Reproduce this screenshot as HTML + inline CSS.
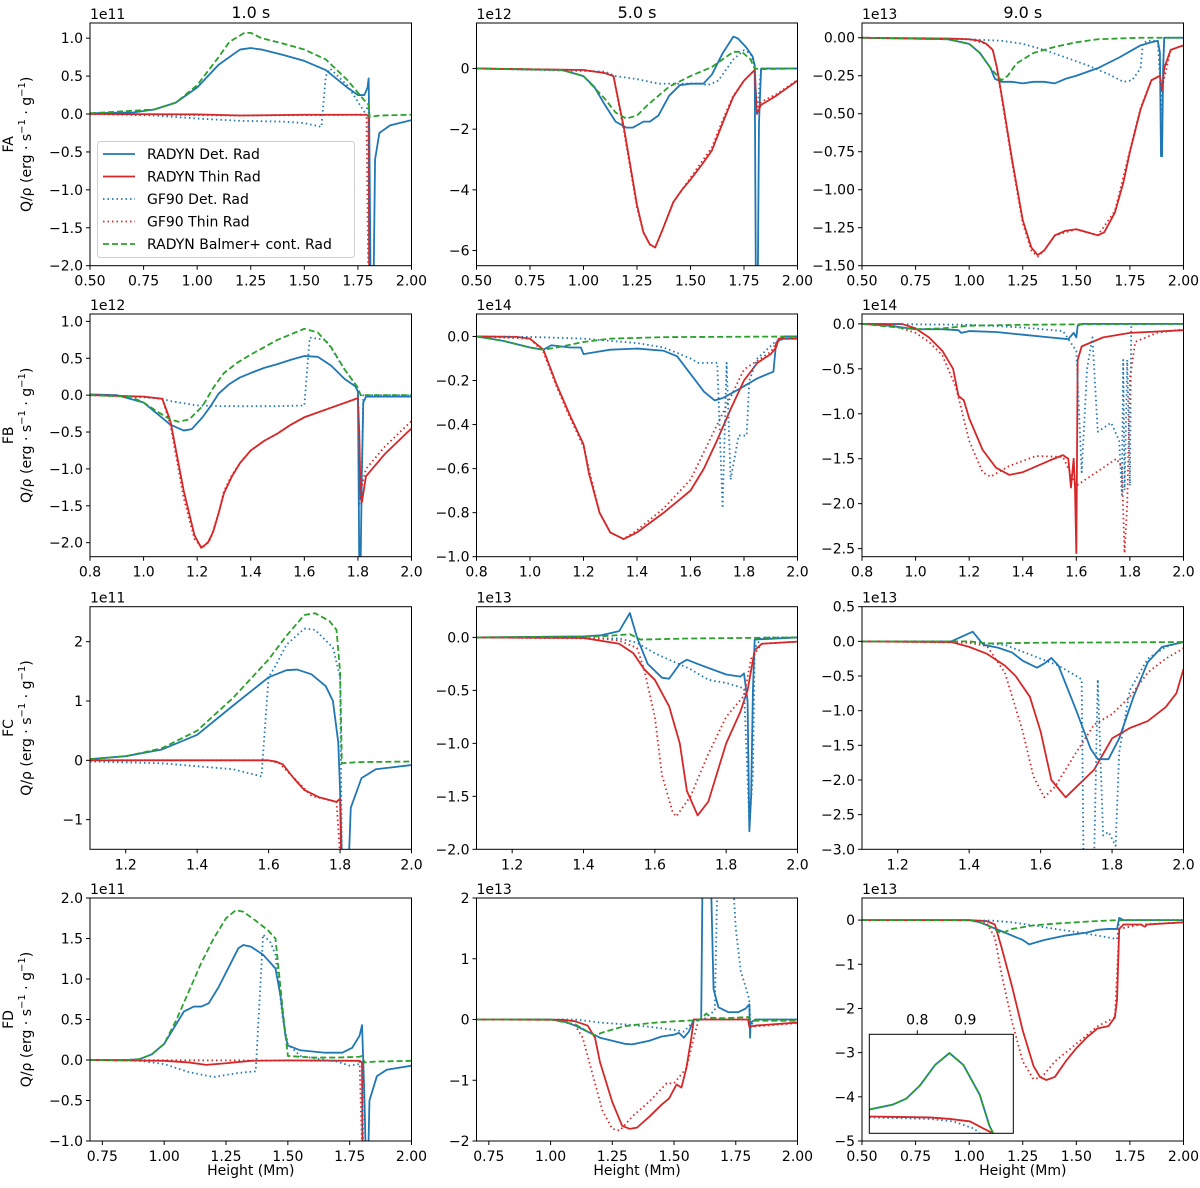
<!DOCTYPE html>
<html><head><meta charset="utf-8"><style>
html,body{margin:0;padding:0;background:#fff;}
svg{display:block;font-family:"DejaVu Sans","Liberation Sans",sans-serif;}
</style></head><body>
<svg id="fig" width="1200" height="1188" viewBox="0 0 1200 1188" xmlns="http://www.w3.org/2000/svg"></svg>
<script>
// ---- data (values in units of the panel exponent) ----
const xTicksA=[0.5,0.75,1.0,1.25,1.5,1.75,2.0];
const xTicksB=[0.8,1.0,1.2,1.4,1.6,1.8,2.0];
const xTicksC=[1.2,1.4,1.6,1.8,2.0];
const xTicksD=[0.75,1.0,1.25,1.5,1.75,2.0];
const yT11=[-2,-1.5,-1,-0.5,0,0.5,1.0], yT12=[-6,-4,-2,0], yT13=[-1.5,-1.25,-1,-0.75,-0.5,-0.25,0];
const yT21=[-2,-1.5,-1,-0.5,0,0.5,1.0], yT22=[-1,-0.8,-0.6,-0.4,-0.2,0], yT23=[-2.5,-2,-1.5,-1,-0.5,0];
const yT31=[-1,0,1,2], yT32=[-2,-1.5,-1,-0.5,0], yT33=[-3,-2.5,-2,-1.5,-1,-0.5,0,0.5];
const yT41=[-1,-0.5,0,0.5,1,1.5,2], yT42=[-2,-1,0,1,2], yT43=[-5,-4,-3,-2,-1,0];

const p11_det=[[0.5,0.01],[0.7,0.02],[0.8,0.06],[0.9,0.15],[1.0,0.35],[1.1,0.65],[1.2,0.85],[1.25,0.87],[1.3,0.85],[1.4,0.78],[1.5,0.70],[1.6,0.58],[1.7,0.35],[1.75,0.25],[1.78,0.25],[1.795,0.35],[1.80,0.47],[1.803,-0.2],[1.81,-2.5],[1.822,-2.5],[1.83,-0.6],[1.85,-0.25],[1.9,-0.15],[2.0,-0.08]];
const p11_thin=[[0.5,0],[1.0,-0.005],[1.2,-0.02],[1.5,-0.01],[1.79,-0.01],[1.80,-0.03],[1.803,-2.5]];
const p11_gdet=[[0.5,0],[0.8,-0.02],[1.0,-0.06],[1.2,-0.09],[1.4,-0.1],[1.5,-0.12],[1.58,-0.17],[1.6,0.5],[1.62,0.6],[1.7,0.38],[1.78,0.03],[1.80,0.1],[1.805,-2.5]];
const p11_gthin=[[0.5,0],[1.2,-0.02],[1.79,-0.01],[1.80,-2.5]];
const p11_balm=[[0.5,0.01],[0.8,0.06],[0.9,0.15],[1.0,0.38],[1.1,0.75],[1.15,0.95],[1.22,1.07],[1.25,1.07],[1.3,1.0],[1.4,0.93],[1.5,0.85],[1.6,0.72],[1.7,0.45],[1.78,0.18],[1.80,0.12],[1.805,-0.04],[1.85,-0.02],[2.0,-0.01]];

const p12_det=[[0.5,0],[0.9,-0.05],[1.0,-0.25],[1.05,-0.6],[1.1,-1.2],[1.15,-1.75],[1.2,-1.95],[1.23,-1.95],[1.28,-1.75],[1.31,-1.75],[1.35,-1.55],[1.4,-0.9],[1.45,-0.55],[1.5,-0.5],[1.56,-0.5],[1.6,-0.2],[1.65,0.5],[1.7,1.05],[1.72,1.0],[1.76,0.7],[1.79,0.4],[1.80,0.1],[1.805,-6.6],[1.815,-6.6],[1.82,-1.8],[1.83,0],[2.0,0]];
const p12_thin=[[0.5,0],[1.0,-0.05],[1.1,-0.15],[1.14,-0.25],[1.19,-2],[1.25,-4.5],[1.28,-5.4],[1.31,-5.8],[1.335,-5.9],[1.37,-5.3],[1.42,-4.4],[1.46,-4.0],[1.5,-3.66],[1.55,-3.2],[1.6,-2.7],[1.65,-1.8],[1.7,-0.93],[1.75,-0.4],[1.80,-0.05],[1.81,-1.5],[1.83,-1.2],[1.9,-0.9],[2.0,-0.4]];
const p12_gdet=[[0.5,0],[1.1,-0.1],[1.15,-0.25],[1.25,-0.35],[1.35,-0.5],[1.45,-0.5],[1.55,-0.5],[1.58,-0.55],[1.63,-0.4],[1.66,-0.1],[1.7,0.3],[1.75,0.6],[1.78,0.5],[1.80,0.1],[1.81,-1.5],[1.83,0],[2.0,0]];
const p12_gthin=[[0.5,0],[1.0,-0.05],[1.1,-0.15],[1.14,-0.25],[1.19,-2.1],[1.25,-4.6],[1.28,-5.4],[1.31,-5.8],[1.335,-5.9],[1.37,-5.3],[1.42,-4.4],[1.5,-3.6],[1.55,-3.1],[1.6,-2.6],[1.65,-1.7],[1.7,-0.9],[1.75,-0.4],[1.80,-0.05],[1.81,-1.4],[1.83,-1.1],[1.9,-0.85],[2.0,-0.38]];
const p12_balm=[[0.5,0],[0.9,-0.05],[1.0,-0.25],[1.1,-1.0],[1.15,-1.45],[1.2,-1.65],[1.25,-1.55],[1.3,-1.2],[1.4,-0.6],[1.5,-0.25],[1.6,0.05],[1.65,0.3],[1.7,0.55],[1.74,0.55],[1.78,0.3],[1.80,0],[1.82,-0.02],[2.0,0]];

const p13_det=[[0.5,0],[0.9,-0.01],[1.0,-0.04],[1.05,-0.1],[1.1,-0.2],[1.12,-0.27],[1.15,-0.29],[1.2,-0.29],[1.25,-0.3],[1.3,-0.29],[1.35,-0.29],[1.4,-0.3],[1.45,-0.27],[1.5,-0.25],[1.6,-0.2],[1.7,-0.13],[1.8,-0.05],[1.85,-0.03],[1.88,-0.02],[1.89,-0.1],[1.895,-0.78],[1.9,-0.78],[1.905,-0.2],[1.91,0],[2.0,0]];
const p13_thin=[[0.5,0],[0.9,-0.005],[1.0,-0.01],[1.05,-0.02],[1.08,-0.04],[1.11,-0.08],[1.13,-0.2],[1.16,-0.45],[1.2,-0.8],[1.25,-1.2],[1.29,-1.38],[1.32,-1.43],[1.35,-1.40],[1.4,-1.3],[1.45,-1.27],[1.5,-1.26],[1.55,-1.28],[1.6,-1.3],[1.63,-1.28],[1.68,-1.15],[1.72,-0.95],[1.75,-0.75],[1.8,-0.47],[1.85,-0.28],[1.89,-0.25],[1.9,-0.35],[1.91,-0.2],[1.94,-0.08],[2.0,-0.05]];
const p13_gdet=[[0.5,0],[1.0,-0.01],[1.15,-0.02],[1.25,-0.04],[1.35,-0.08],[1.45,-0.13],[1.55,-0.18],[1.65,-0.24],[1.72,-0.29],[1.76,-0.28],[1.8,-0.2],[1.81,-0.04],[1.83,-0.02],[1.88,-0.02],[1.9,-0.5],[1.91,0],[2.0,0]];
const p13_gthin=[[0.5,0],[1.0,-0.01],[1.08,-0.04],[1.11,-0.08],[1.13,-0.2],[1.16,-0.47],[1.2,-0.82],[1.25,-1.22],[1.29,-1.4],[1.32,-1.44],[1.35,-1.40],[1.4,-1.3],[1.5,-1.26],[1.6,-1.3],[1.68,-1.14],[1.75,-0.74],[1.8,-0.46],[1.85,-0.28],[1.89,-0.25],[1.9,-0.33],[1.94,-0.08],[2.0,-0.05]];
const p13_balm=[[0.5,0],[0.9,-0.01],[1.0,-0.04],[1.05,-0.1],[1.1,-0.2],[1.15,-0.28],[1.18,-0.25],[1.22,-0.17],[1.3,-0.1],[1.4,-0.06],[1.5,-0.03],[1.6,-0.01],[1.8,0],[2.0,0]];

const p21_det=[[0.8,0.01],[0.9,0],[1.0,-0.1],[1.05,-0.25],[1.1,-0.4],[1.15,-0.48],[1.18,-0.46],[1.22,-0.3],[1.25,-0.15],[1.28,0.02],[1.32,0.15],[1.36,0.24],[1.4,0.3],[1.45,0.37],[1.5,0.42],[1.55,0.48],[1.6,0.53],[1.65,0.52],[1.7,0.4],[1.75,0.22],[1.79,0.12],[1.80,0.05],[1.805,-2.3],[1.81,-2.3],[1.815,-1.0],[1.82,-0.1],[1.83,-0.02],[2.0,-0.02]];
const p21_thin=[[0.8,0],[1.0,-0.02],[1.07,-0.05],[1.1,-0.35],[1.15,-1.3],[1.19,-1.9],[1.215,-2.07],[1.24,-2.0],[1.26,-1.85],[1.28,-1.6],[1.3,-1.33],[1.33,-1.1],[1.36,-0.92],[1.4,-0.75],[1.45,-0.62],[1.5,-0.52],[1.55,-0.4],[1.6,-0.3],[1.7,-0.17],[1.8,-0.04],[1.805,-0.5],[1.81,-1.4],[1.815,-1.45],[1.83,-1.1],[1.9,-0.8],[2.0,-0.45]];
const p21_gdet=[[0.8,0],[1.0,-0.03],[1.07,-0.05],[1.1,-0.08],[1.2,-0.14],[1.3,-0.15],[1.5,-0.15],[1.6,-0.14],[1.62,0.78],[1.68,0.75],[1.75,0.35],[1.8,0.1],[1.805,-1.5],[1.815,-1.0],[1.82,0],[2.0,0]];
const p21_gthin=[[0.8,0],[1.0,-0.02],[1.07,-0.05],[1.1,-0.4],[1.15,-1.4],[1.19,-1.95],[1.22,-2.07],[1.25,-1.95],[1.28,-1.6],[1.3,-1.3],[1.33,-1.08],[1.36,-0.92],[1.4,-0.75],[1.45,-0.62],[1.5,-0.52],[1.55,-0.4],[1.6,-0.3],[1.7,-0.17],[1.8,-0.04],[1.81,-1.3],[1.83,-1.0],[1.9,-0.7],[2.0,-0.35]];
const p21_balm=[[0.8,0],[0.95,-0.02],[1.0,-0.1],[1.05,-0.22],[1.1,-0.33],[1.13,-0.36],[1.17,-0.33],[1.22,-0.15],[1.26,0.1],[1.3,0.3],[1.35,0.44],[1.4,0.55],[1.5,0.75],[1.6,0.9],[1.65,0.85],[1.7,0.65],[1.75,0.35],[1.8,0.1],[1.81,0],[2.0,0]];

const p22_det=[[0.8,0],[0.9,-0.02],[1.0,-0.05],[1.05,-0.06],[1.08,-0.04],[1.15,-0.05],[1.19,-0.05],[1.2,-0.08],[1.25,-0.07],[1.3,-0.06],[1.4,-0.055],[1.5,-0.065],[1.55,-0.09],[1.6,-0.17],[1.65,-0.25],[1.69,-0.29],[1.72,-0.28],[1.78,-0.24],[1.85,-0.19],[1.91,-0.16],[1.92,-0.03],[1.95,0],[2.0,0]];
const p22_thin=[[0.8,0],[0.95,-0.002],[1.0,-0.01],[1.05,-0.06],[1.1,-0.22],[1.15,-0.36],[1.2,-0.49],[1.22,-0.62],[1.26,-0.8],[1.3,-0.89],[1.35,-0.92],[1.4,-0.89],[1.5,-0.8],[1.55,-0.75],[1.6,-0.7],[1.65,-0.6],[1.7,-0.47],[1.75,-0.33],[1.8,-0.2],[1.85,-0.12],[1.9,-0.08],[1.92,-0.05],[1.93,-0.01],[2.0,-0.01]];
const p22_gdet=[[0.8,0],[1.0,-0.002],[1.2,-0.01],[1.3,-0.02],[1.4,-0.03],[1.5,-0.05],[1.6,-0.1],[1.63,-0.12],[1.7,-0.12],[1.72,-0.78],[1.735,-0.12],[1.75,-0.65],[1.78,-0.45],[1.81,-0.45],[1.82,-0.2],[1.85,-0.1],[1.92,-0.02],[2.0,0]];
const p22_gthin=[[0.8,0],[1.0,-0.01],[1.05,-0.07],[1.1,-0.23],[1.15,-0.37],[1.2,-0.5],[1.26,-0.8],[1.3,-0.89],[1.35,-0.92],[1.4,-0.88],[1.5,-0.78],[1.6,-0.65],[1.7,-0.4],[1.8,-0.15],[1.9,-0.07],[1.93,-0.01],[2.0,-0.01]];
const p22_balm=[[0.8,0],[0.9,-0.02],[1.0,-0.05],[1.05,-0.06],[1.1,-0.05],[1.2,-0.025],[1.3,-0.01],[1.5,-0.003],[2.0,0]];

const p23_det=[[0.8,0],[0.9,-0.02],[1.0,-0.06],[1.1,-0.06],[1.16,-0.07],[1.17,-0.1],[1.2,-0.08],[1.3,-0.09],[1.4,-0.12],[1.5,-0.15],[1.57,-0.17],[1.59,-0.1],[1.6,-0.15],[1.605,-0.02],[1.62,0],[2.0,0]];
const p23_thin=[[0.8,0],[0.95,-0.002],[1.0,-0.05],[1.05,-0.15],[1.1,-0.3],[1.14,-0.5],[1.16,-0.8],[1.18,-0.85],[1.2,-1.05],[1.25,-1.4],[1.3,-1.6],[1.35,-1.68],[1.4,-1.65],[1.5,-1.52],[1.55,-1.46],[1.57,-1.5],[1.58,-1.82],[1.59,-1.5],[1.595,-1.82],[1.6,-2.55],[1.605,-0.4],[1.62,-0.25],[1.7,-0.15],[1.8,-0.1],[2.0,-0.07]];
const p23_gdet=[[0.8,0],[1.2,-0.01],[1.4,-0.04],[1.55,-0.08],[1.6,-0.3],[1.62,-1.65],[1.64,-0.5],[1.66,-0.15],[1.68,-1.2],[1.73,-1.1],[1.76,-1.3],[1.77,-1.9],[1.775,-0.4],[1.78,-1.85],[1.79,-0.4],[1.8,-1.8],[1.805,0],[2.0,0]];
const p23_gthin=[[0.8,0],[0.9,-0.005],[1.0,-0.1],[1.05,-0.2],[1.1,-0.35],[1.15,-0.7],[1.2,-1.3],[1.25,-1.65],[1.28,-1.7],[1.35,-1.58],[1.45,-1.47],[1.55,-1.48],[1.6,-1.8],[1.65,-1.7],[1.7,-1.6],[1.75,-1.5],[1.77,-1.6],[1.78,-2.55],[1.79,-2.0],[1.8,-0.6],[1.82,-0.2],[1.9,-0.1],[2.0,-0.06]];
const p23_balm=[[0.8,0],[1.0,-0.06],[1.1,-0.05],[1.2,-0.02],[1.4,-0.01],[1.6,-0.005],[2.0,0]];

const p31_det=[[1.1,0.02],[1.2,0.07],[1.3,0.18],[1.4,0.43],[1.5,0.92],[1.6,1.4],[1.65,1.52],[1.68,1.53],[1.72,1.45],[1.76,1.25],[1.78,1.0],[1.795,0.3],[1.8,-0.5],[1.805,-1.6],[1.825,-1.6],[1.83,-0.8],[1.86,-0.3],[1.9,-0.15],[2.0,-0.08]];
const p31_thin=[[1.1,0],[1.6,0],[1.62,-0.02],[1.64,-0.07],[1.67,-0.3],[1.7,-0.5],[1.74,-0.62],[1.79,-0.7],[1.8,-0.65],[1.803,-1.6]];
const p31_gdet=[[1.1,-0.02],[1.3,-0.05],[1.5,-0.15],[1.58,-0.27],[1.6,1.4],[1.62,1.6],[1.65,1.95],[1.7,2.22],[1.73,2.2],[1.78,1.9],[1.8,1.4],[1.805,-1.6]];
const p31_gthin=[[1.1,0],[1.6,0],[1.63,-0.05],[1.68,-0.35],[1.72,-0.6],[1.79,-0.7],[1.8,-1.6]];
const p31_balm=[[1.1,0.02],[1.2,0.07],[1.3,0.2],[1.4,0.5],[1.5,1.05],[1.6,1.7],[1.65,2.1],[1.7,2.45],[1.73,2.48],[1.77,2.35],[1.79,2.2],[1.8,1.5],[1.805,-0.05],[1.85,-0.03],[2.0,-0.02]];

const p32_det=[[1.1,0],[1.4,0.01],[1.45,0.02],[1.5,0.06],[1.53,0.23],[1.55,0.0],[1.58,-0.25],[1.62,-0.38],[1.64,-0.39],[1.67,-0.25],[1.69,-0.21],[1.72,-0.25],[1.8,-0.35],[1.84,-0.37],[1.85,-0.34],[1.86,-0.6],[1.865,-1.83],[1.87,-1.5],[1.875,-0.5],[1.88,-0.02],[2.0,0]];
const p32_thin=[[1.1,0],[1.4,-0.005],[1.5,-0.06],[1.54,-0.15],[1.57,-0.3],[1.6,-0.4],[1.64,-0.65],[1.67,-1.0],[1.69,-1.45],[1.72,-1.68],[1.75,-1.55],[1.8,-1.0],[1.84,-0.7],[1.86,-0.5],[1.88,-0.12],[1.9,-0.06],[2.0,-0.04]];
const p32_gdet=[[1.1,0],[1.5,-0.01],[1.55,-0.05],[1.6,-0.15],[1.7,-0.3],[1.75,-0.4],[1.8,-0.43],[1.85,-0.48],[1.865,-1.75],[1.875,-1.3],[1.88,-0.1],[1.9,0],[2.0,0]];
const p32_gthin=[[1.1,0],[1.45,-0.01],[1.5,-0.03],[1.55,-0.1],[1.57,-0.3],[1.6,-0.75],[1.62,-1.3],[1.65,-1.65],[1.66,-1.69],[1.7,-1.5],[1.75,-1.1],[1.8,-0.75],[1.85,-0.55],[1.87,-0.2],[1.9,-0.06],[2.0,-0.04]];
const p32_balm=[[1.1,0],[1.45,0.01],[1.53,0.03],[1.56,-0.02],[1.7,-0.01],[2.0,0]];

const p33_det=[[1.1,0],[1.35,0],[1.38,0.07],[1.41,0.14],[1.44,-0.05],[1.48,-0.09],[1.52,-0.16],[1.55,-0.28],[1.59,-0.38],[1.61,-0.32],[1.63,-0.24],[1.65,-0.35],[1.7,-1.0],[1.74,-1.55],[1.76,-1.7],[1.79,-1.7],[1.82,-1.4],[1.86,-0.8],[1.9,-0.3],[1.94,-0.08],[2.0,-0.01]];
const p33_thin=[[1.1,0],[1.35,-0.01],[1.4,-0.08],[1.45,-0.18],[1.5,-0.35],[1.53,-0.5],[1.57,-0.8],[1.6,-1.3],[1.63,-2.0],[1.67,-2.25],[1.7,-2.1],[1.75,-1.85],[1.8,-1.4],[1.85,-1.25],[1.9,-1.15],[1.95,-0.95],[1.98,-0.75],[2.0,-0.4]];
const p33_gdet=[[1.1,0],[1.4,-0.01],[1.5,-0.05],[1.6,-0.25],[1.65,-0.35],[1.7,-0.5],[1.715,-0.55],[1.72,-3.1],[1.75,-3.1],[1.76,-0.55],[1.775,-2.8],[1.79,-2.75],[1.81,-2.95],[1.82,-1.6],[1.85,-0.7],[1.9,-0.25],[1.95,-0.08],[2.0,0]];
const p33_gthin=[[1.1,0],[1.4,-0.02],[1.45,-0.07],[1.5,-0.45],[1.55,-1.3],[1.58,-1.95],[1.61,-2.25],[1.64,-2.1],[1.7,-1.6],[1.75,-1.2],[1.8,-1.05],[1.85,-0.8],[1.9,-0.45],[1.95,-0.25],[2.0,-0.1]];
const p33_balm=[[1.1,0],[1.4,0],[1.45,-0.03],[1.6,-0.02],[2.0,-0.01]];

const p41_det=[[0.7,0],[0.85,0],[0.9,0.01],[0.95,0.07],[1.0,0.2],[1.05,0.45],[1.08,0.6],[1.12,0.66],[1.15,0.66],[1.18,0.7],[1.22,0.9],[1.27,1.2],[1.3,1.38],[1.32,1.42],[1.35,1.4],[1.4,1.3],[1.45,1.13],[1.47,0.8],[1.49,0.3],[1.5,0.18],[1.55,0.12],[1.65,0.09],[1.72,0.09],[1.76,0.15],[1.79,0.3],[1.8,0.43],[1.805,-0.02],[1.81,-0.5],[1.815,-1.2],[1.825,-1.2],[1.83,-0.5],[1.86,-0.2],[1.9,-0.12],[2.0,-0.07]];
const p41_thin=[[0.7,0],[1.0,-0.01],[1.1,-0.03],[1.17,-0.06],[1.25,-0.04],[1.35,-0.01],[1.5,-0.005],[1.79,-0.01],[1.8,-0.03],[1.802,-1.1]];
const p41_gdet=[[0.7,0],[0.9,-0.01],[1.0,-0.05],[1.1,-0.15],[1.2,-0.21],[1.3,-0.16],[1.37,-0.14],[1.4,1.55],[1.43,1.45],[1.45,1.3],[1.48,0.5],[1.5,0.2],[1.55,0.05],[1.65,0],[1.7,-0.02],[1.75,-0.07],[1.79,-0.05],[1.8,-0.02],[1.805,-1.1]];
const p41_gthin=[[0.7,0],[1.79,-0.01],[1.8,-1.1]];
const p41_balm=[[0.7,0],[0.85,0],[0.9,0.01],[0.95,0.07],[1.0,0.2],[1.05,0.5],[1.1,0.85],[1.15,1.2],[1.2,1.5],[1.25,1.75],[1.29,1.85],[1.32,1.83],[1.37,1.72],[1.42,1.6],[1.45,1.5],[1.48,0.6],[1.5,0.05],[1.6,0.03],[1.7,0.03],[1.79,0.04],[1.8,0.05],[1.81,-0.03],[1.85,-0.02],[2.0,-0.01]];

const p42_det=[[0.7,0],[1.0,0],[1.05,-0.03],[1.1,-0.1],[1.15,-0.2],[1.2,-0.3],[1.25,-0.35],[1.3,-0.4],[1.33,-0.41],[1.4,-0.35],[1.45,-0.28],[1.5,-0.25],[1.52,-0.22],[1.54,-0.3],[1.56,-0.2],[1.58,0],[1.61,0],[1.615,2.2],[1.65,2.2],[1.66,0.5],[1.68,0.2],[1.72,0.12],[1.76,0.12],[1.79,0.18],[1.805,0.25],[1.808,-0.3],[1.81,-0.05],[1.83,0],[2.0,0]];
const p42_thin=[[0.7,0],[1.05,-0.005],[1.1,-0.03],[1.15,-0.1],[1.18,-0.3],[1.2,-0.7],[1.25,-1.36],[1.29,-1.75],[1.32,-1.8],[1.35,-1.78],[1.4,-1.6],[1.45,-1.4],[1.48,-1.3],[1.51,-1.07],[1.53,-1.12],[1.55,-0.8],[1.57,-0.3],[1.58,0],[1.8,0],[1.805,-0.12],[1.83,-0.1],[2.0,-0.05]];
const p42_gdet=[[0.7,0],[1.1,0],[1.2,-0.05],[1.3,-0.08],[1.4,-0.12],[1.5,-0.17],[1.54,-0.2],[1.58,-0.02],[1.62,0],[1.665,0.15],[1.675,2.2],[1.74,2.2],[1.75,1.5],[1.77,0.8],[1.8,0.4],[1.805,0.3],[1.81,-0.1],[1.83,0],[2.0,0]];
const p42_gthin=[[0.7,0],[1.05,-0.005],[1.1,-0.1],[1.13,-0.3],[1.17,-0.9],[1.21,-1.5],[1.25,-1.8],[1.28,-1.83],[1.33,-1.6],[1.4,-1.35],[1.47,-1.05],[1.5,-1.05],[1.55,-0.8],[1.58,-0.3],[1.6,0],[1.8,0],[1.81,-0.12],[2.0,-0.06]];
const p42_balm=[[0.7,0],[1.0,0],[1.1,-0.08],[1.15,-0.2],[1.18,-0.26],[1.22,-0.2],[1.3,-0.11],[1.4,-0.06],[1.5,-0.03],[1.6,-0.01],[1.62,0.05],[1.63,0.1],[1.65,0.03],[1.7,0.02],[1.8,0.04],[1.81,-0.02],[2.0,-0.02]];

const p43_det=[[0.5,0],[1.0,0],[1.05,-0.05],[1.1,-0.15],[1.15,-0.25],[1.2,-0.35],[1.25,-0.45],[1.28,-0.55],[1.35,-0.45],[1.45,-0.35],[1.55,-0.28],[1.6,-0.22],[1.65,-0.2],[1.69,-0.2],[1.7,0.05],[1.72,0],[2.0,0]];
const p43_thin=[[0.5,0],[1.0,0],[1.08,-0.02],[1.12,-0.1],[1.15,-0.6],[1.2,-1.5],[1.25,-2.5],[1.3,-3.3],[1.33,-3.55],[1.36,-3.62],[1.4,-3.55],[1.45,-3.2],[1.5,-2.9],[1.55,-2.65],[1.6,-2.45],[1.65,-2.4],[1.68,-2.2],[1.69,-1.8],[1.7,-0.2],[1.72,-0.1],[1.8,-0.1],[1.82,-0.15],[1.83,-0.1],[2.0,-0.05]];
const p43_gdet=[[0.5,0],[1.1,-0.01],[1.2,-0.05],[1.3,-0.12],[1.4,-0.2],[1.5,-0.27],[1.6,-0.35],[1.69,-0.43],[1.7,0],[2.0,0]];
const p43_gthin=[[0.5,0],[1.0,0],[1.08,-0.05],[1.12,-0.4],[1.15,-1.2],[1.2,-2.3],[1.25,-3.2],[1.3,-3.6],[1.34,-3.55],[1.4,-3.2],[1.5,-2.8],[1.6,-2.4],[1.68,-2.2],[1.7,-0.2],[1.8,-0.1],[2.0,-0.05]];
const p43_balm=[[0.5,0],[1.0,0],[1.05,-0.05],[1.1,-0.15],[1.15,-0.3],[1.2,-0.2],[1.3,-0.12],[1.4,-0.08],[1.5,-0.05],[1.6,-0.02],[1.7,0],[2.0,0]];
// inset (normalised y)
const inset_balm=[[0.7,0.24],[0.749,0.29],[0.777,0.35],[0.805,0.48],[0.837,0.69],[0.867,0.81],[0.896,0.69],[0.93,0.39],[0.95,0.08],[0.958,0]];
const inset_thin=[[0.7,0.17],[0.826,0.16],[0.868,0.145],[0.91,0.12],[0.937,0.05],[0.958,0]];
const inset_gdet=[[0.7,0.16],[0.826,0.145],[0.875,0.12],[0.917,0.05],[0.93,0]];
const insetTicks=[0.8,0.9];

// ---- drawing ----
const NS='http://www.w3.org/2000/svg';
const svg=document.getElementById('fig');
const BLUE='#1f77b4',RED='#d62728',GREEN='#2ca02c';
const colL=[90,476.5,862],colR=[411.5,797.5,1183.5];
const rowT=[23,314,606.7,898],rowB=[265.7,556.7,849.3,1141];
function el(tag,attrs,parent){const e=document.createElementNS(NS,tag);for(const k in attrs)e.setAttribute(k,attrs[k]);(parent||svg).appendChild(e);return e;}
function fmt(v,d){const s=Math.abs(v).toFixed(d);return (v<0&&Math.abs(v)>1e-9?'\u2212':'')+s;}
const styles={det:{c:BLUE,d:null},thin:{c:RED,d:null},gdet:{c:BLUE,d:'1.5 3'},gthin:{c:RED,d:'1.5 3'},balm:{c:GREEN,d:'6 3'}};
const panels=[
 {id:'fa-1s',r:0,c:0,xl:[0.5,2.0],yl:[-2,1.2],xt:xTicksA,xd:2,yt:yT11,yd:1,exp:'1e11',s:{det:p11_det,thin:p11_thin,gdet:p11_gdet,gthin:p11_gthin,balm:p11_balm}},
 {id:'fa-5s',r:0,c:1,xl:[0.5,2.0],yl:[-6.5,1.5],xt:xTicksA,xd:2,yt:yT12,yd:0,exp:'1e12',s:{det:p12_det,thin:p12_thin,gdet:p12_gdet,gthin:p12_gthin,balm:p12_balm}},
 {id:'fa-9s',r:0,c:2,xl:[0.5,2.0],yl:[-1.5,0.097],xt:xTicksA,xd:2,yt:yT13,yd:2,exp:'1e13',s:{det:p13_det,thin:p13_thin,gdet:p13_gdet,gthin:p13_gthin,balm:p13_balm}},
 {id:'fb-1s',r:1,c:0,xl:[0.8,2.0],yl:[-2.19,1.1],xt:xTicksB,xd:1,yt:yT21,yd:1,exp:'1e12',s:{det:p21_det,thin:p21_thin,gdet:p21_gdet,gthin:p21_gthin,balm:p21_balm}},
 {id:'fb-5s',r:1,c:1,xl:[0.8,2.0],yl:[-1.0,0.102],xt:xTicksB,xd:1,yt:yT22,yd:1,exp:'1e14',s:{det:p22_det,thin:p22_thin,gdet:p22_gdet,gthin:p22_gthin,balm:p22_balm}},
 {id:'fb-9s',r:1,c:2,xl:[0.8,2.0],yl:[-2.59,0.11],xt:xTicksB,xd:1,yt:yT23,yd:1,exp:'1e14',s:{det:p23_det,thin:p23_thin,gdet:p23_gdet,gthin:p23_gthin,balm:p23_balm}},
 {id:'fc-1s',r:2,c:0,xl:[1.1,2.0],yl:[-1.5,2.59],xt:xTicksC,xd:1,yt:yT31,yd:0,exp:'1e11',s:{det:p31_det,thin:p31_thin,gdet:p31_gdet,gthin:p31_gthin,balm:p31_balm}},
 {id:'fc-5s',r:2,c:1,xl:[1.1,2.0],yl:[-2.0,0.29],xt:xTicksC,xd:1,yt:yT32,yd:1,exp:'1e13',s:{det:p32_det,thin:p32_thin,gdet:p32_gdet,gthin:p32_gthin,balm:p32_balm}},
 {id:'fc-9s',r:2,c:2,xl:[1.1,2.0],yl:[-3.0,0.5],xt:xTicksC,xd:1,yt:yT33,yd:1,exp:'1e13',s:{det:p33_det,thin:p33_thin,gdet:p33_gdet,gthin:p33_gthin,balm:p33_balm}},
 {id:'fd-1s',r:3,c:0,xl:[0.7,2.0],yl:[-1.0,2.0],xt:xTicksD,xd:2,yt:yT41,yd:1,exp:'1e11',s:{det:p41_det,thin:p41_thin,gdet:p41_gdet,gthin:p41_gthin,balm:p41_balm}},
 {id:'fd-5s',r:3,c:1,xl:[0.7,2.0],yl:[-2.0,2.0],xt:xTicksD,xd:2,yt:yT42,yd:0,exp:'1e13',s:{det:p42_det,thin:p42_thin,gdet:p42_gdet,gthin:p42_gthin,balm:p42_balm}},
 {id:'fd-9s',r:3,c:2,xl:[0.5,2.0],yl:[-5.0,0.5],xt:xTicksA,xd:2,yt:yT43,yd:0,exp:'1e13',s:{det:p43_det,thin:p43_thin,gdet:p43_gdet,gthin:p43_gthin,balm:p43_balm}}
];
const rowNames=['FA','FB','FC','FD'];
const titles=['1.0 s','5.0 s','9.0 s'];
function drawSeries(g,data,st,sx,sy,clip,name){
  const pts=data.map(p=>sx(p[0]).toFixed(2)+','+sy(p[1]).toFixed(2)).join(' ');
  const pl=el('polyline',{points:pts,fill:'none',stroke:st.c,'stroke-width':1.8,'stroke-linejoin':'round','clip-path':'url(#'+clip+')'},g);
  if(st.d)pl.setAttribute('stroke-dasharray',st.d);
  
  
}
panels.forEach(P=>{
  const L=colL[P.c],R=colR[P.c],T=rowT[P.r],B=rowB[P.r];
  const sx=v=>L+(v-P.xl[0])/(P.xl[1]-P.xl[0])*(R-L);
  const sy=v=>B-(v-P.yl[0])/(P.yl[1]-P.yl[0])*(B-T);
  const g=el('g',{});
  
  
  const cp=el('clipPath',{id:'clip-'+P.id},g);
  el('rect',{x:L,y:T,width:R-L,height:B-T},cp);
  ['det','thin','gdet','gthin','balm'].forEach(k=>drawSeries(g,P.s[k],styles[k],sx,sy,'clip-'+P.id,'series-'+k));
  const fr=el('rect',{x:L,y:T,width:R-L,height:B-T,fill:'none',stroke:'#000','stroke-width':1},g);
  
  
  P.xt.forEach(v=>{const x=sx(v);
    el('line',{x1:x,x2:x,y1:B,y2:B+4,stroke:'#000','stroke-width':1},g);
    const t=el('text',{x:x,y:B+20,'font-size':14,'text-anchor':'middle',fill:'#000'},g);t.textContent=fmt(v,P.xd);
    
    });
  P.yt.forEach(v=>{const y=sy(v);
    el('line',{x1:L-4,x2:L,y1:y,y2:y,stroke:'#000','stroke-width':1},g);
    const t=el('text',{x:L-7,y:y+5,'font-size':14,'text-anchor':'end',fill:'#000'},g);t.textContent=fmt(v,P.yd);
    
    });
  const ex=el('text',{x:L,y:T-4,'font-size':14,fill:'#000'},g);ex.textContent=P.exp;
  
  
  if(P.r===0){const t=el('text',{x:(L+R)/2,y:18,'font-size':16,'text-anchor':'middle'},g);t.textContent=titles[P.c];
    
    }
  if(P.r===3){const t=el('text',{x:(L+R)/2,y:1175,'font-size':14,'text-anchor':'middle'},g);t.textContent='Height (Mm)';
    
    }
  if(P.c===0){const cy=(T+B)/2;
    const a=el('text',{x:0,y:0,'font-size':14,'text-anchor':'middle',transform:'translate(13,'+cy+') rotate(-90)'},g);a.textContent=rowNames[P.r];
    
    
    const b=el('text',{x:0,y:0,'font-size':14,'text-anchor':'middle',transform:'translate(31,'+cy+') rotate(-90)'},g);
    b.innerHTML='Q/ρ (erg · s<tspan font-size="10" dy="-6">−1</tspan><tspan dy="6"> · g</tspan><tspan font-size="10" dy="-6">−1</tspan><tspan dy="6">)</tspan>';
    
    }
  if(P.id==='fd-9s'){
    const iL=869.3,iR=1013.3,iT=1034.3,iB=1133.3;
    const ix=v=>iL+(v-0.7)/0.3*(iR-iL), iy=v=>iB-v*(iB-iT);
    const ig=el('g',{},g);
    
    
    el('rect',{x:iL,y:iT,width:iR-iL,height:iB-iT,fill:'#fff',stroke:'none'},ig);
    const icp=el('clipPath',{id:'clip-inset'},ig);
    el('rect',{x:iL,y:iT,width:iR-iL,height:iB-iT},icp);
    drawSeries(ig,inset_gdet,styles.gdet,ix,iy,'clip-inset','inset-series-gdet');
    drawSeries(ig,inset_thin,styles.thin,ix,iy,'clip-inset','inset-series-thin');
    drawSeries(ig,inset_balm,{c:BLUE,d:null},ix,iy,'clip-inset','inset-series-det');
    drawSeries(ig,inset_balm,styles.balm,ix,iy,'clip-inset','inset-series-balm');
    el('rect',{x:iL,y:iT,width:iR-iL,height:iB-iT,fill:'none',stroke:'#000','stroke-width':1},ig);
    insetTicks.forEach(v=>{const x=ix(v);
      el('line',{x1:x,x2:x,y1:iT-4,y2:iT,stroke:'#000','stroke-width':1},ig);
      const t=el('text',{x:x,y:iT-10,'font-size':14,'text-anchor':'middle'},ig);t.textContent=v.toFixed(1);
      
      });
  }
});
// legend
const legLabels=['RADYN Det. Rad','RADYN Thin Rad','GF90 Det. Rad','GF90 Thin Rad','RADYN Balmer+ cont. Rad'];
const legKeys=['det','thin','gdet','gthin','balm'];
const lg=el('g',{});


el('rect',{x:97.5,y:141.5,width:257,height:116,rx:3,fill:'#fff','fill-opacity':0.85,stroke:'#d0d0d0','stroke-width':1},lg);
legLabels.forEach((lab,i)=>{const y=154+i*22.5;const st=styles[legKeys[i]];
  const ln=el('line',{x1:103,x2:135,y1:y,y2:y,stroke:st.c,'stroke-width':1.8},lg);
  if(st.d)ln.setAttribute('stroke-dasharray',st.d);
  const t=el('text',{x:147,y:y+5,'font-size':14},lg);t.textContent=lab;
  
  
});
</script>
</body></html>
